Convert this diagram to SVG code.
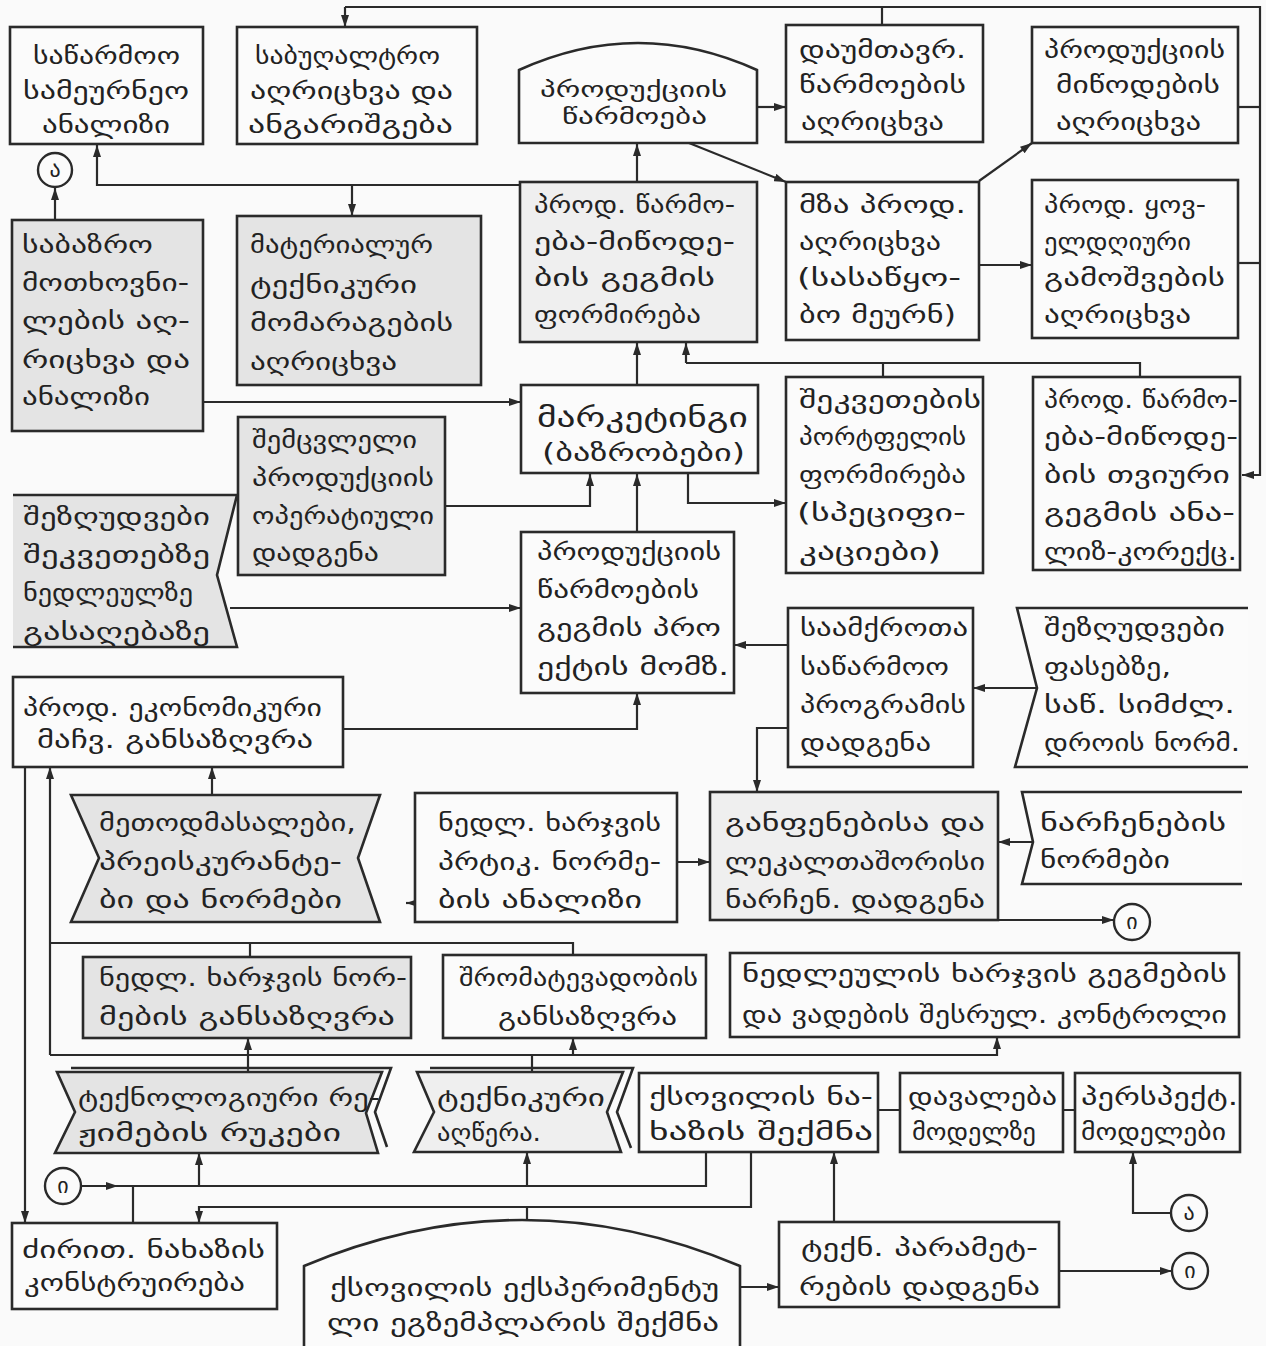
<svg xmlns="http://www.w3.org/2000/svg" width="1266" height="1346" viewBox="0 0 1266 1346">
<defs>
<marker id="ar" viewBox="0 0 12 8" markerWidth="12" markerHeight="8" refX="12" refY="4" orient="auto" markerUnits="userSpaceOnUse"><path d="M0,0 L12,4 L0,8 Z" fill="#2a2a2a"/></marker>
</defs>
<style>
.w{fill:#fbfbfb;stroke:#2a2a2a;stroke-width:2.6}
.g{fill:#e4e4e4;stroke:#2a2a2a;stroke-width:2.6}
.l{fill:#efefef;stroke:#2a2a2a;stroke-width:2.6}
.ns{stroke:none}
.o{fill:none;stroke:#2a2a2a;stroke-width:2.6}
text{font-family:"DejaVu Sans","Noto Sans",sans-serif;font-size:24px;fill:#222}
.big{font-size:27px}
.sm{font-size:21px}
.c{fill:#fbfbfb;stroke:#2a2a2a;stroke-width:2.4}
.cl{text-anchor:middle;font-size:22px}
#connectors path{fill:none;stroke:#2a2a2a;stroke-width:2.2}
</style>
<rect x="0" y="0" width="1266" height="1346" fill="#fafafa"/>

<g id="connectors">
<path d="M345,7 H1260 V475 H1242" marker-end="url(#ar)"/>
<path d="M345,7 V27" marker-end="url(#ar)"/>
<path d="M882,7 V25"/>
<path d="M1238,107 H1260"/>
<path d="M1238,263 H1260"/>
<path d="M520,185 H97 V145" marker-end="url(#ar)"/>
<path d="M352,185 V216" marker-end="url(#ar)"/>
<path d="M55,220 V188" marker-end="url(#ar)"/>
<path d="M203,402 H521" marker-end="url(#ar)"/>
<path d="M637,182 V144" marker-end="url(#ar)"/>
<path d="M757,107 H786" marker-end="url(#ar)"/>
<path d="M689,143 L786,182" marker-end="url(#ar)"/>
<path d="M979,181 L1032,143" marker-end="url(#ar)"/>
<path d="M979,265 H1032" marker-end="url(#ar)"/>
<path d="M686,363 V343" marker-end="url(#ar)"/>
<path d="M686,363 H1140 V377"/>
<path d="M883,363 V377"/>
<path d="M637,385 V343" marker-end="url(#ar)"/>
<path d="M445,506 H590 V474" marker-end="url(#ar)"/>
<path d="M637,532 V474" marker-end="url(#ar)"/>
<path d="M688,473 V503 H786" marker-end="url(#ar)"/>
<path d="M230,608 H521" marker-end="url(#ar)"/>
<path d="M788,645 H734" marker-end="url(#ar)"/>
<path d="M1037,688 H973" marker-end="url(#ar)"/>
<path d="M788,728 H757 V792" marker-end="url(#ar)"/>
<path d="M343,729 H637 V693" marker-end="url(#ar)"/>
<path d="M25,767 V1223" marker-end="url(#ar)"/>
<path d="M50,1055 V767" marker-end="url(#ar)"/>
<path d="M50,943 H573 V955"/>
<path d="M250,943 V957"/>
<path d="M50,1055 H997 V1037" marker-end="url(#ar)"/>
<path d="M212,795 V767" marker-end="url(#ar)"/>
<path d="M417,903 H406" marker-end="url(#ar)"/>
<path d="M677,862 H710" marker-end="url(#ar)"/>
<path d="M1033,842 H998" marker-end="url(#ar)"/>
<path d="M998,920 H1114" marker-end="url(#ar)"/>
<path d="M248,1072 V1038" marker-end="url(#ar)"/>
<path d="M573,1055 V1038" marker-end="url(#ar)"/>
<path d="M532,1055 V1072"/>
<path d="M81,1186 H118" marker-end="url(#ar)"/>
<path d="M118,1186 H706 V1152"/>
<path d="M199,1186 V1153" marker-end="url(#ar)"/>
<path d="M527,1186 V1152" marker-end="url(#ar)"/>
<path d="M133,1186 V1223"/>
<path d="M751,1152 V1207 H199 V1223" marker-end="url(#ar)"/>
<path d="M527,1207 V1232" marker-end="url(#ar)"/>
<path d="M834,1222 V1152" marker-end="url(#ar)"/>
<path d="M740,1287 H779" marker-end="url(#ar)"/>
<path d="M1059,1271 H1172" marker-end="url(#ar)"/>
<path d="M1171,1213 H1133 V1152" marker-end="url(#ar)"/>
<path d="M910,1110 H850" marker-end="url(#ar)"/>
<path d="M1092,1110 H1034" marker-end="url(#ar)"/>
</g>

<g id="n-sawarmoo">
<rect class="w" x="10" y="27" width="193" height="117"/>
<text x="33" y="64" textLength="147" lengthAdjust="spacingAndGlyphs">საწარმოო</text>
<text x="23" y="99" textLength="166" lengthAdjust="spacingAndGlyphs">სამეურნეო</text>
<text x="42" y="133" textLength="128" lengthAdjust="spacingAndGlyphs">ანალიზი</text>
</g>
<g id="n-sabughaltro">
<rect class="w" x="237" y="27" width="240" height="117"/>
<text x="255" y="64" textLength="185" lengthAdjust="spacingAndGlyphs">საბუღალტრო</text>
<text x="250" y="99" textLength="203" lengthAdjust="spacingAndGlyphs">აღრიცხვა და</text>
<text x="248" y="133" textLength="205" lengthAdjust="spacingAndGlyphs">ანგარიშგება</text>
</g>
<g id="n-warmoeba">
<path class="w" d="M519,143 V70 Q638,16 757,70 V143 Z"/>
<text class="sm" x="540" y="97" textLength="187" lengthAdjust="spacingAndGlyphs">პროდუქციის</text>
<text class="sm" x="562" y="124" textLength="145" lengthAdjust="spacingAndGlyphs">წარმოება</text>
</g>
<g id="n-daumtavr">
<rect class="w" x="786" y="25" width="197" height="117"/>
<text x="799" y="58" textLength="167" lengthAdjust="spacingAndGlyphs">დაუმთავრ.</text>
<text x="799" y="93" textLength="167" lengthAdjust="spacingAndGlyphs">წარმოების</text>
<text x="801" y="130" textLength="143" lengthAdjust="spacingAndGlyphs">აღრიცხვა</text>
</g>
<g id="n-miwodeba">
<rect class="w" x="1032" y="27" width="206" height="116"/>
<text x="1044" y="58" textLength="181" lengthAdjust="spacingAndGlyphs">პროდუქციის</text>
<text x="1056" y="93" textLength="164" lengthAdjust="spacingAndGlyphs">მიწოდების</text>
<text x="1056" y="130" textLength="145" lengthAdjust="spacingAndGlyphs">აღრიცხვა</text>
</g>
<g id="n-circle-a1">
<circle class="c" cx="55" cy="170" r="17"/>
<text class="cl" x="55" y="177">ა</text>
</g>
<g id="n-sabazro">
<rect class="g" x="12" y="220" width="191" height="211"/>
<text x="22" y="253" textLength="131" lengthAdjust="spacingAndGlyphs">საბაზრო</text>
<text x="22" y="291" textLength="167" lengthAdjust="spacingAndGlyphs">მოთხოვნი-</text>
<text x="22" y="329" textLength="168" lengthAdjust="spacingAndGlyphs">ლების აღ-</text>
<text x="22" y="368" textLength="168" lengthAdjust="spacingAndGlyphs">რიცხვა და</text>
<text x="22" y="405" textLength="128" lengthAdjust="spacingAndGlyphs">ანალიზი</text>
</g>
<g id="n-materialur">
<rect class="g" x="237" y="216" width="244" height="169"/>
<text x="250" y="253" textLength="183" lengthAdjust="spacingAndGlyphs">მატერიალურ</text>
<text x="250" y="293" textLength="167" lengthAdjust="spacingAndGlyphs">ტექნიკური</text>
<text x="250" y="331" textLength="203" lengthAdjust="spacingAndGlyphs">მომარაგების</text>
<text x="250" y="370" textLength="147" lengthAdjust="spacingAndGlyphs">აღრიცხვა</text>
</g>
<g id="n-gegmis-formireba">
<rect class="l" x="520" y="182" width="237" height="160"/>
<text x="534" y="213" textLength="201" lengthAdjust="spacingAndGlyphs">პროდ. წარმო-</text>
<text x="534" y="250" textLength="201" lengthAdjust="spacingAndGlyphs">ება-მიწოდე-</text>
<text x="534" y="286" textLength="181" lengthAdjust="spacingAndGlyphs">ბის გეგმის</text>
<text x="534" y="323" textLength="167" lengthAdjust="spacingAndGlyphs">ფორმირება</text>
</g>
<g id="n-mza">
<rect class="w" x="786" y="182" width="193" height="158"/>
<text x="799" y="213" textLength="167" lengthAdjust="spacingAndGlyphs">მზა პროდ.</text>
<text x="799" y="250" textLength="142" lengthAdjust="spacingAndGlyphs">აღრიცხვა</text>
<text x="797" y="286" textLength="164" lengthAdjust="spacingAndGlyphs">(სასაწყო-</text>
<text x="799" y="323" textLength="157" lengthAdjust="spacingAndGlyphs">ბო მეურნ)</text>
</g>
<g id="n-yoveldghiuri">
<rect class="w" x="1032" y="180" width="206" height="158"/>
<text x="1044" y="213" textLength="162" lengthAdjust="spacingAndGlyphs">პროდ. ყოვ-</text>
<text x="1044" y="250" textLength="147" lengthAdjust="spacingAndGlyphs">ელდღიური</text>
<text x="1044" y="286" textLength="181" lengthAdjust="spacingAndGlyphs">გამოშვების</text>
<text x="1044" y="323" textLength="147" lengthAdjust="spacingAndGlyphs">აღრიცხვა</text>
</g>
<g id="n-marketingi">
<rect class="w" x="521" y="385" width="237" height="88"/>
<text class="big" x="537" y="427" textLength="211" lengthAdjust="spacingAndGlyphs">მარკეტინგი</text>
<text x="542" y="461" textLength="203" lengthAdjust="spacingAndGlyphs">(ბაზრობები)</text>
</g>
<g id="n-portfeli">
<rect class="w" x="786" y="377" width="197" height="196"/>
<text x="799" y="408" textLength="182" lengthAdjust="spacingAndGlyphs">შეკვეთების</text>
<text x="799" y="445" textLength="167" lengthAdjust="spacingAndGlyphs">პორტფელის</text>
<text x="799" y="483" textLength="167" lengthAdjust="spacingAndGlyphs">ფორმირება</text>
<text x="797" y="521" textLength="169" lengthAdjust="spacingAndGlyphs">(სპეციფი-</text>
<text x="799" y="560" textLength="142" lengthAdjust="spacingAndGlyphs">კაციები)</text>
</g>
<g id="n-tviuri">
<rect class="w" x="1033" y="377" width="207" height="193"/>
<text x="1044" y="408" textLength="194" lengthAdjust="spacingAndGlyphs">პროდ. წარმო-</text>
<text x="1044" y="445" textLength="194" lengthAdjust="spacingAndGlyphs">ება-მიწოდე-</text>
<text x="1044" y="483" textLength="186" lengthAdjust="spacingAndGlyphs">ბის თვიური</text>
<text x="1044" y="521" textLength="191" lengthAdjust="spacingAndGlyphs">გეგმის ანა-</text>
<text x="1044" y="560" textLength="193" lengthAdjust="spacingAndGlyphs">ლიზ-კორექც.</text>
</g>
<g id="n-shemcvleli">
<rect class="g" x="238" y="417" width="207" height="158"/>
<text x="252" y="448" textLength="165" lengthAdjust="spacingAndGlyphs">შემცვლელი</text>
<text x="252" y="486" textLength="182" lengthAdjust="spacingAndGlyphs">პროდუქციის</text>
<text x="252" y="524" textLength="182" lengthAdjust="spacingAndGlyphs">ოპერატიული</text>
<text x="252" y="561" textLength="127" lengthAdjust="spacingAndGlyphs">დადგენა</text>
</g>
<g id="n-shezghudvebi-1">
<path class="g ns" d="M13,495 H237 L217,575 L237,647 H13 Z"/>
<path class="o" d="M13,495 H237 L217,575 L237,647 H13"/>
<text x="23" y="525" textLength="187" lengthAdjust="spacingAndGlyphs">შეზღუდვები</text>
<text x="23" y="563" textLength="187" lengthAdjust="spacingAndGlyphs">შეკვეთებზე</text>
<text x="23" y="601" textLength="170" lengthAdjust="spacingAndGlyphs">ნედლეულზე</text>
<text x="23" y="640" textLength="187" lengthAdjust="spacingAndGlyphs">გასაღებაზე</text>
</g>
<g id="n-gegmis-proekti">
<rect class="w" x="521" y="532" width="213" height="161"/>
<text x="537" y="560" textLength="184" lengthAdjust="spacingAndGlyphs">პროდუქციის</text>
<text x="537" y="598" textLength="162" lengthAdjust="spacingAndGlyphs">წარმოების</text>
<text x="537" y="636" textLength="184" lengthAdjust="spacingAndGlyphs">გეგმის პრო</text>
<text x="537" y="675" textLength="192" lengthAdjust="spacingAndGlyphs">ექტის მომზ.</text>
</g>
<g id="n-saamqrota">
<rect class="w" x="788" y="608" width="185" height="159"/>
<text x="800" y="636" textLength="168" lengthAdjust="spacingAndGlyphs">საამქროთა</text>
<text x="800" y="675" textLength="149" lengthAdjust="spacingAndGlyphs">საწარმოო</text>
<text x="800" y="713" textLength="166" lengthAdjust="spacingAndGlyphs">პროგრამის</text>
<text x="800" y="751" textLength="131" lengthAdjust="spacingAndGlyphs">დადგენა</text>
</g>
<g id="n-shezghudvebi-2">
<path class="w ns" d="M1248,608 H1017 L1037,688 L1015,767 H1248 Z"/>
<path class="o" d="M1248,608 H1017 L1037,688 L1015,767 H1248"/>
<text x="1044" y="636" textLength="181" lengthAdjust="spacingAndGlyphs">შეზღუდვები</text>
<text x="1044" y="675" textLength="127" lengthAdjust="spacingAndGlyphs">ფასებზე,</text>
<text x="1044" y="713" textLength="191" lengthAdjust="spacingAndGlyphs">საწ. სიმძლ.</text>
<text x="1044" y="751" textLength="196" lengthAdjust="spacingAndGlyphs">დროის ნორმ.</text>
</g>
<g id="n-ekonomikuri">
<rect class="w" x="13" y="677" width="330" height="90"/>
<text x="23" y="716" textLength="299" lengthAdjust="spacingAndGlyphs">პროდ. ეკონომიკური</text>
<text x="37" y="748" textLength="276" lengthAdjust="spacingAndGlyphs">მაჩვ. განსაზღვრა</text>
</g>
<g id="n-metodmasalebi">
<path class="g" d="M71,795 H380 L358,858 L380,922 H71 L99,858 Z"/>
<text x="99" y="831" textLength="257" lengthAdjust="spacingAndGlyphs">მეთოდმასალები,</text>
<text x="99" y="870" textLength="243" lengthAdjust="spacingAndGlyphs">პრეისკურანტე-</text>
<text x="99" y="908" textLength="243" lengthAdjust="spacingAndGlyphs">ბი და ნორმები</text>
</g>
<g id="n-nedl-analizi">
<rect class="w" x="415" y="793" width="262" height="129"/>
<text x="438" y="831" textLength="223" lengthAdjust="spacingAndGlyphs">ნედლ. ხარჯვის</text>
<text x="438" y="870" textLength="223" lengthAdjust="spacingAndGlyphs">პრტიკ. ნორმე-</text>
<text x="438" y="908" textLength="204" lengthAdjust="spacingAndGlyphs">ბის ანალიზი</text>
</g>
<g id="n-ganfenebi">
<rect class="l" x="710" y="792" width="288" height="128"/>
<text x="725" y="831" textLength="260" lengthAdjust="spacingAndGlyphs">განფენებისა და</text>
<text x="725" y="870" textLength="260" lengthAdjust="spacingAndGlyphs">ლეკალთაშორისი</text>
<text x="725" y="908" textLength="260" lengthAdjust="spacingAndGlyphs">ნარჩენ. დადგენა</text>
</g>
<g id="n-narchenebi">
<path class="w ns" d="M1242,792 H1022 L1033,842 L1022,884 H1242 Z"/>
<path class="o" d="M1242,792 H1022 L1033,842 L1022,884 H1242"/>
<text x="1040" y="831" textLength="186" lengthAdjust="spacingAndGlyphs">ნარჩენების</text>
<text x="1040" y="868" textLength="130" lengthAdjust="spacingAndGlyphs">ნორმები</text>
</g>
<g id="n-circle-i1">
<circle class="c" cx="1132" cy="922" r="18"/>
<text class="cl" x="1132" y="929">ი</text>
</g>
<g id="n-nedl-normebi">
<rect class="g" x="83" y="957" width="328" height="81"/>
<text x="99" y="986" textLength="308" lengthAdjust="spacingAndGlyphs">ნედლ. ხარჯვის ნორ-</text>
<text x="99" y="1025" textLength="296" lengthAdjust="spacingAndGlyphs">მების განსაზღვრა</text>
</g>
<g id="n-shromatevadoba">
<rect class="w" x="443" y="955" width="263" height="83"/>
<text x="459" y="986" textLength="239" lengthAdjust="spacingAndGlyphs">შრომატევადობის</text>
<text x="498" y="1025" textLength="179" lengthAdjust="spacingAndGlyphs">განსაზღვრა</text>
</g>
<g id="n-kontroli">
<rect class="w" x="730" y="953" width="509" height="84"/>
<text x="742" y="982" textLength="485" lengthAdjust="spacingAndGlyphs">ნედლეულის ხარჯვის გეგმების</text>
<text x="742" y="1023" textLength="485" lengthAdjust="spacingAndGlyphs">და ვადების შესრულ. კონტროლი</text>
</g>
<g id="n-rezhimebi">
<path class="o" d="M71,1068 H391 L375,1112 L387,1147"/>
<path class="g" d="M57,1072 H382 L366,1113 L378,1153 H55 L75,1112 Z"/>
<text x="78" y="1106" textLength="302" lengthAdjust="spacingAndGlyphs">ტექნოლოგიური რე-</text>
<text x="78" y="1141" textLength="263" lengthAdjust="spacingAndGlyphs">ჟიმების რუკები</text>
</g>
<g id="n-teqnikuri">
<path class="o" d="M430,1068 H633 L617,1112 L631,1148"/>
<path class="l" d="M417,1072 H623 L607,1112 L621,1152 H414 L434,1112 Z"/>
<text x="437" y="1106" textLength="168" lengthAdjust="spacingAndGlyphs">ტექნიკური</text>
<text x="437" y="1141" textLength="104" lengthAdjust="spacingAndGlyphs">აღწერა.</text>
</g>
<g id="n-naxazi">
<rect class="w" x="639" y="1073" width="239" height="79"/>
<text x="649" y="1105" textLength="224" lengthAdjust="spacingAndGlyphs">ქსოვილის ნა-</text>
<text x="649" y="1140" textLength="224" lengthAdjust="spacingAndGlyphs">ხაზის შექმნა</text>
</g>
<g id="n-davaleba">
<rect class="w" x="900" y="1073" width="163" height="79"/>
<text x="908" y="1105" textLength="149" lengthAdjust="spacingAndGlyphs">დავალება</text>
<text x="912" y="1140" textLength="124" lengthAdjust="spacingAndGlyphs">მოდელზე</text>
</g>
<g id="n-perspeqt">
<rect class="w" x="1075" y="1073" width="165" height="79"/>
<text x="1081" y="1105" textLength="157" lengthAdjust="spacingAndGlyphs">პერსპექტ.</text>
<text x="1081" y="1140" textLength="145" lengthAdjust="spacingAndGlyphs">მოდელები</text>
</g>
<g id="n-circle-i2">
<circle class="c" cx="63" cy="1186" r="18"/>
<text class="cl" x="63" y="1193">ი</text>
</g>
<g id="n-circle-a2">
<circle class="c" cx="1189" cy="1213" r="18"/>
<text class="cl" x="1189" y="1220">ა</text>
</g>
<g id="n-dzirit">
<rect class="w" x="12" y="1223" width="265" height="86"/>
<text x="22" y="1258" textLength="243" lengthAdjust="spacingAndGlyphs">ძირით. ნახაზის</text>
<text x="24" y="1291" textLength="221" lengthAdjust="spacingAndGlyphs">კონსტრუირება</text>
</g>
<g id="n-eqsperimentuli">
<path class="w" d="M304,1347 V1266 Q522,1174 740,1266 V1347"/>
<text x="330" y="1296" textLength="389" lengthAdjust="spacingAndGlyphs">ქსოვილის ექსპერიმენტუ</text>
<text x="327" y="1331" textLength="392" lengthAdjust="spacingAndGlyphs">ლი ეგზემპლარის შექმნა</text>
</g>
<g id="n-parametrebi">
<rect class="w" x="779" y="1222" width="280" height="85"/>
<text x="801" y="1256" textLength="237" lengthAdjust="spacingAndGlyphs">ტექნ. პარამეტ-</text>
<text x="799" y="1295" textLength="241" lengthAdjust="spacingAndGlyphs">რების დადგენა</text>
</g>
<g id="n-circle-i3">
<circle class="c" cx="1190" cy="1271" r="18"/>
<text class="cl" x="1190" y="1278">ი</text>
</g>
</svg>
